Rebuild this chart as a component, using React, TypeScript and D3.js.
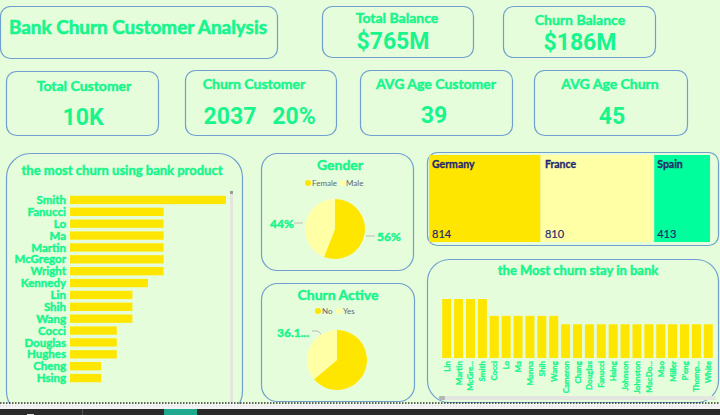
import React from "react";
import * as d3 from "d3";

const W = 720;
const H = 415;
const BG = "#e6fddc";
const GREEN = "#17f58c";
const BORDER = "#6fa0cf";
const YEL = "#ffe600";
const LYEL = "#ffffa6";
const NAVY = "#1f2a6e";

const productNames = ["Smith","Fanucci","Lo","Ma","Martin","McGregor","Wright","Kennedy","Lin","Shih","Wang","Cocci","Douglas","Hughes","Cheng","Hsing"];
const productValues = [10,6,6,6,6,6,6,5,4,4,4,3,3,3,2,2];

const genderLabels = ["Female","Male"];
const genderValues = [56,44];

const activeLabels = ["No","Yes"];
const activeValues = [63.9,36.1];

const countries = ["Germany","France","Spain"];
const countryValues = [814,810,413];
const countryColors = [YEL, LYEL, "#00ff9c"];

const stayNames = ["Lin","Martin","McGre...","Smith","Cocci","Lo","Ma","Manna","Shih","Wang","Cameron","Chang","Douglas","Fanucci","Hsing","Johnson","Johnston","MacDo...","Mao","Miller","P'eng","Thomp...","White"];
const stayValues = [7,7,7,7,5,5,5,5,5,5,4,4,4,4,4,4,4,4,4,4,4,4,4];

const FONT = "Lato, 'Open Sans', sans-serif";
const NUMFONT = "Roboto, 'DejaVu Sans', sans-serif";

const B = { fill: GREEN, fontWeight: 700, stroke: GREEN, strokeWidth: 0.45, paintOrder: "stroke" } as any;
const Bs = { fill: GREEN, fontWeight: 700, stroke: GREEN, strokeWidth: 0.3, paintOrder: "stroke" } as any;

function Card({ x, y, w, h, r = 10 }: { x: number; y: number; w: number; h: number; r?: number }) {
  return <rect x={x + 0.5} y={y + 0.5} width={w} height={h} rx={r} ry={r} fill="none" stroke={BORDER} strokeWidth={1.2} />;
}

export default function App() {
  const yBand = d3.scaleBand<string>().domain(productNames).range([194, 384]).paddingInner(0.3).paddingOuter(0.15);
  const xLin = d3.scaleLinear().domain([0, 10]).range([70, 226]);

  const pie = d3.pie<number>().sort(null).startAngle(0).endAngle(Math.PI * 2);
  const arc = d3.arc<d3.PieArcDatum<number>>().innerRadius(0).outerRadius(30);
  const gArcs = pie(genderValues);
  const aArcs = pie(activeValues);

  const root = d3
    .hierarchy<any>({ children: countries.map((c, i) => ({ name: c, value: countryValues[i], color: countryColors[i] })) })
    .sum((d: any) => d.value || 0);
  d3.treemap<any>().tile(d3.treemapDice).size([281, 87]).paddingInner(1.5)(root);
  const leaves = root.leaves() as any[];

  const xBand = d3.scaleBand<string>().domain(stayNames).range([441, 714]).paddingInner(0.24).paddingOuter(0.1);
  const yLin = d3.scaleLinear().domain([0, 7]).range([358, 299]);

  return (
    <svg width={W} height={H} style={{ position: "absolute", left: 0, top: 0, display: "block" }} fontFamily={FONT}>
      <rect x={0} y={0} width={W} height={H} fill={BG} />

      <Card x={0} y={6} w={277} h={52} />
      <text x={9} y={34} {...B} strokeWidth={0.6} fontSize={19} textLength={258} lengthAdjust="spacingAndGlyphs">Bank Churn Customer Analysis</text>

      <Card x={322} y={6} w={151} h={51} />
      <text x={397} y={23} textAnchor="middle" {...B} fontSize={14}>Total Balance</text>
      <text x={393} y={49} textAnchor="middle" fill={GREEN} fontSize={23} fontWeight={700} fontFamily={NUMFONT}>$765M</text>

      <Card x={503} y={6} w={152} h={51} />
      <text x={580} y={25} textAnchor="middle" {...B} fontSize={14}>Churn Balance</text>
      <text x={580} y={50} textAnchor="middle" fill={GREEN} fontSize={23} fontWeight={700} fontFamily={NUMFONT}>$186M</text>

      <Card x={6} y={71} w={152} h={64} />
      <text x={84} y={91} textAnchor="middle" {...B} fontSize={14}>Total Customer</text>
      <text x={83} y={125} textAnchor="middle" fill={GREEN} fontSize={23} fontWeight={700} fontFamily={NUMFONT}>10K</text>

      <Card x={185} y={70} w={151} h={65} />
      <text x={254} y={89} textAnchor="middle" {...B} fontSize={14}>Churn Customer</text>
      <text x={230} y={124} textAnchor="middle" fill={GREEN} fontSize={23} fontWeight={700} fontFamily={NUMFONT}>2037</text>
      <text x={294} y={124} textAnchor="middle" fill={GREEN} fontSize={23} fontWeight={700} fontFamily={NUMFONT}>20%</text>

      <Card x={360} y={70} w={152} h={65} />
      <text x={436} y={89} textAnchor="middle" {...B} fontSize={14}>AVG Age Customer</text>
      <text x={434} y={123} textAnchor="middle" fill={GREEN} fontSize={23} fontWeight={700} fontFamily={NUMFONT}>39</text>

      <Card x={534} y={70} w={153} h={65} />
      <text x={610} y={89} textAnchor="middle" {...B} fontSize={14}>AVG Age Churn</text>
      <text x={612} y={124} textAnchor="middle" fill={GREEN} fontSize={23} fontWeight={700} fontFamily={NUMFONT}>45</text>

      <rect x={6.5} y={153.5} width={236} height={262} rx={24} ry={24} fill="none" stroke={BORDER} strokeWidth={1.2} />
      <text x={122} y={175} textAnchor="middle" {...B} fontSize={13}>the most churn using bank product</text>
      {productNames.map((n, i) => (
        <g key={n}>
          <rect x={xLin(0)} y={yBand(n)!} width={xLin(productValues[i]) - xLin(0)} height={yBand.bandwidth()} fill={YEL} />
          <text x={66} y={yBand(n)! + yBand.bandwidth() / 2} dy="0.36em" textAnchor="end" {...B} fontSize={11.5}>{n}</text>
        </g>
      ))}
      <rect x={230} y={191} width={3} height={212} fill="#e3e6df" />
      <rect x={230} y={191} width={3} height={3} fill="#9a9a9a" />

      <Card x={261} y={153} w={152} h={117} r={16} />
      <text x={340} y={170} textAnchor="middle" {...B} fontSize={14}>Gender</text>
      <circle cx={308} cy={183} r={3} fill={YEL} />
      <text x={312} y={183} dy="0.35em" fill="#666" fontSize={8}>{genderLabels[0]}</text>
      <circle cx={342} cy={183} r={3} fill={LYEL} />
      <text x={346} y={183} dy="0.35em" fill="#666" fontSize={8}>{genderLabels[1]}</text>
      <g transform="translate(335,229)">
        {gArcs.map((a, i) => (
          <path key={i} d={arc(a)!} fill={i === 0 ? YEL : LYEL} />
        ))}
      </g>
      <line x1={294} y1={223} x2={303} y2={223} stroke="#aaa" strokeWidth={0.8} />
      <text x={270} y={228} {...B} fontSize={12}>{genderValues[1]}%</text>
      <line x1={366} y1={236} x2={375} y2={236} stroke="#aaa" strokeWidth={0.8} />
      <text x={377} y={241} {...B} fontSize={12}>{genderValues[0]}%</text>

      <Card x={261} y={283} w={153} h={118} r={16} />
      <text x={338} y={300} textAnchor="middle" {...B} fontSize={14}>Churn Active</text>
      <circle cx={318} cy={311} r={3} fill={YEL} />
      <text x={322} y={311} dy="0.35em" fill="#666" fontSize={8}>{activeLabels[0]}</text>
      <circle cx={339} cy={311} r={3} fill={LYEL} />
      <text x={343} y={311} dy="0.35em" fill="#666" fontSize={8}>{activeLabels[1]}</text>
      <g transform="translate(337,360)">
        {aArcs.map((a, i) => (
          <path key={i} d={arc(a)!} fill={i === 0 ? YEL : LYEL} />
        ))}
      </g>
      <polyline points="312,331 318,331 321,334" fill="none" stroke="#aaa" strokeWidth={0.8} />
      <text x={277} y={337} {...B} fontSize={12}>36.1...</text>

      <Card x={427} y={152} w={291} h={93} r={10} />
      <g transform="translate(429,155)">
        {leaves.map((l) => (
          <g key={l.data.name}>
            <rect x={l.x0} y={l.y0} width={l.x1 - l.x0} height={l.y1 - l.y0} fill={l.data.color} />
            <text x={l.x0 + 3} y={l.y0 + 13} fill={NAVY} stroke={NAVY} strokeWidth={0.3} fontSize={10.5} fontWeight={700}>{l.data.name}</text>
            <text x={l.x0 + 3} y={l.y1 - 4} fill={NAVY} stroke={NAVY} strokeWidth={0.2} fontSize={11}>{l.data.value}</text>
          </g>
        ))}
      </g>

      <rect x={427.5} y={259.5} width={291} height={143} rx={22} ry={22} fill="none" stroke={BORDER} strokeWidth={1.2} />
      <text x={578} y={275} textAnchor="middle" {...B} fontSize={13}>the Most churn stay in bank</text>
      {stayNames.map((n, i) => {
        const x = xBand(n)!;
        const cx = x + xBand.bandwidth() / 2;
        return (
          <g key={n}>
            <rect x={x} y={yLin(stayValues[i])} width={xBand.bandwidth()} height={yLin(0) - yLin(stayValues[i])} fill={YEL} />
            <text transform={`translate(${cx + 3},361) rotate(-90)`} textAnchor="end" {...Bs} fontSize={8}>{n}</text>
          </g>
        );
      })}
      <rect x={439} y={396} width={277} height={4} fill="#e3e6df" />
      <rect x={439} y={396} width={6} height={4} rx={1} fill="#b5b5b5" />

      <line x1={0} y1={403} x2={W} y2={403} stroke="#333" strokeWidth={1.5} strokeDasharray="1.5,1.5" />
      <rect x={0} y={404} width={W} height={5} fill="#f4f4f4" />
      <line x1={0} y1={406} x2={W} y2={406} stroke="#ccc" strokeWidth={0.8} strokeDasharray="1,2" />
      <rect x={0} y={409} width={W} height={6} fill="#2b2b2b" />
      <rect x={82} y={409} width={1} height={6} fill="#555" />
      <rect x={164} y={409} width={33} height={6} fill="#1fa98f" />
      <rect x={27} y={414} width={7} height={1} fill="#ddd" />
    </svg>
  );
}
